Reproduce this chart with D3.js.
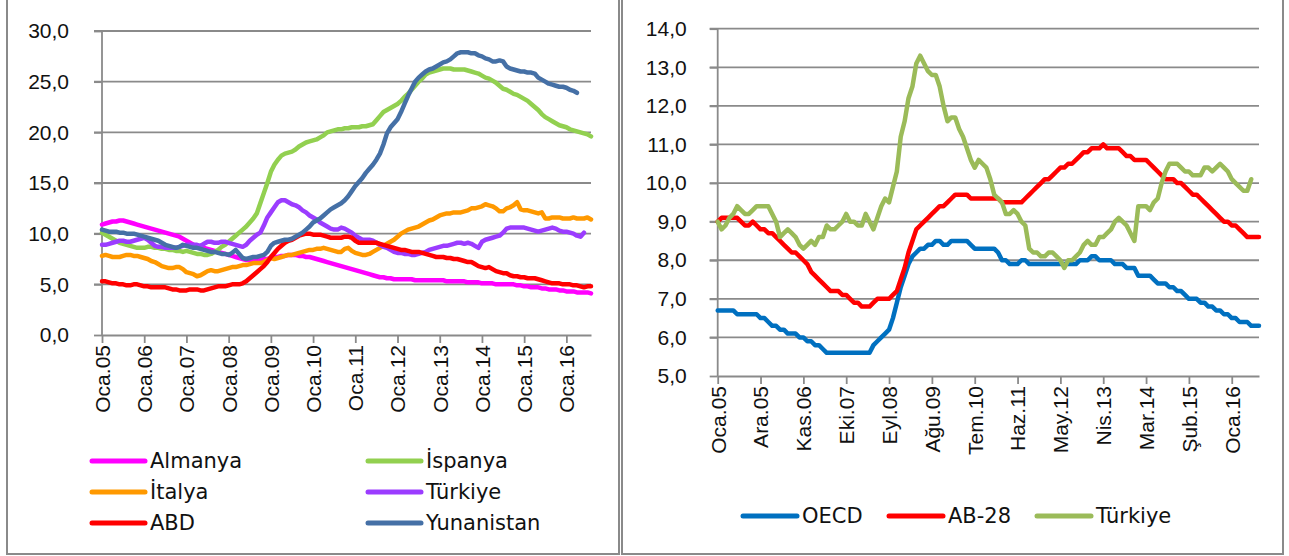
<!DOCTYPE html>
<html>
<head>
<meta charset="utf-8">
<script src="https://cdn.jsdelivr.net/npm/d3@7"></script>
<style>
  body { margin: 0; background: #fff; }
  svg { display: block; font-family: "DejaVu Sans", sans-serif; }
  .tick line, .domain { stroke: #8a8a8a; stroke-width: 1.8; }
  .grid { stroke: #8a8a8a; stroke-width: 1.8; }
  .tick text, .legend text { font-size: 21px; fill: #111; }
</style>
</head>
<body>
<svg id="chart" width="1289" height="556"></svg>
<script>
// tick labels
var leftLabels = ["Oca.05", "Oca.06", "Oca.07", "Oca.08", "Oca.09", "Oca.10",
  "Oca.11", "Oca.12", "Oca.13", "Oca.14", "Oca.15", "Oca.16"];
var rightLabels = ["Oca.05", "Ara.05", "Kas.06", "Eki.07", "Eyl.08", "Ağu.09",
  "Tem.10", "Haz.11", "May.12", "Nis.13", "Mar.14", "Şub.15", "Oca.16"];
var leftYTicks = [0, 5, 10, 15, 20, 25, 30];
var rightYTicks = [5, 6, 7, 8, 9, 10, 11, 12, 13, 14];

// left chart, monthly from Oca.05
var almanya = [
  10.9, 11.0, 11.1, 11.2, 11.2, 11.3, 11.3, 11.2, 11.1, 11.0, 10.9, 10.8,
  10.7, 10.6, 10.5, 10.4, 10.3, 10.2, 10.1, 10.0, 9.9, 9.8, 9.7, 9.5,
  9.3, 9.1, 8.9, 8.8, 8.7, 8.6, 8.5, 8.4, 8.3, 8.2, 8.1, 8.0,
  7.9, 7.8, 7.7, 7.6, 7.5, 7.4, 7.4, 7.4, 7.4, 7.4, 7.5, 7.5,
  7.6, 7.7, 7.7, 7.8, 7.8, 7.9, 7.9, 7.9, 7.8, 7.8, 7.7, 7.7,
  7.6, 7.5, 7.4, 7.3, 7.2, 7.1, 7.0, 6.9, 6.8, 6.7, 6.6, 6.5,
  6.4, 6.3, 6.2, 6.1, 6.0, 5.9, 5.8, 5.7, 5.7, 5.6, 5.6, 5.5,
  5.5, 5.5, 5.5, 5.5, 5.5, 5.4, 5.4, 5.4, 5.4, 5.4, 5.4, 5.4,
  5.4, 5.4, 5.3, 5.3, 5.3, 5.3, 5.3, 5.3, 5.2, 5.2, 5.2, 5.2,
  5.1, 5.1, 5.1, 5.1, 5.0, 5.0, 5.0, 5.0, 5.0, 5.0, 4.9, 4.9,
  4.8, 4.8, 4.7, 4.7, 4.7, 4.6, 4.6, 4.5, 4.5, 4.5, 4.4, 4.4,
  4.3, 4.3, 4.3, 4.2, 4.2, 4.2, 4.2, 4.1
];
var ispanya = [
  10.1, 9.9, 9.7, 9.5, 9.3, 9.1, 9.0, 8.9, 8.8, 8.7, 8.6, 8.6,
  8.6, 8.7, 8.7, 8.6, 8.6, 8.5, 8.5, 8.4, 8.4, 8.3, 8.3, 8.2,
  8.3, 8.2, 8.1, 8.0, 8.0, 7.9, 7.9, 8.0, 8.2, 8.4, 8.7, 8.9,
  9.2, 9.5, 9.8, 10.1, 10.4, 10.7, 11.1, 11.5, 12.0, 13.0, 14.0, 15.0,
  16.1, 16.8, 17.3, 17.7, 17.9, 18.0, 18.1, 18.3, 18.6, 18.8, 19.0, 19.1,
  19.2, 19.3, 19.5, 19.7, 20.0, 20.1, 20.2, 20.3, 20.3, 20.4, 20.4, 20.5,
  20.5, 20.5, 20.6, 20.6, 20.7, 20.8, 21.2, 21.6, 22.0, 22.2, 22.4, 22.6,
  22.8, 23.1, 23.5, 23.8, 24.2, 24.6, 25.0, 25.3, 25.7, 25.9, 26.0, 26.1,
  26.2, 26.3, 26.3, 26.3, 26.2, 26.2, 26.2, 26.2, 26.1, 26.0, 25.9, 25.8,
  25.6, 25.4, 25.3, 25.1, 24.9, 24.6, 24.3, 24.2, 24.0, 23.8, 23.7, 23.5,
  23.3, 23.1, 22.8, 22.5, 22.2, 21.8, 21.5, 21.3, 21.1, 20.9, 20.7, 20.6,
  20.5, 20.3, 20.2, 20.1, 20.0, 19.9, 19.8, 19.6
];
var italya = [
  7.8, 7.9, 7.8, 7.7, 7.7, 7.7, 7.8, 7.9, 7.9, 7.8, 7.8, 7.7,
  7.6, 7.5, 7.3, 7.2, 7.0, 6.8, 6.7, 6.6, 6.6, 6.7, 6.7, 6.5,
  6.2, 6.1, 6.0, 5.8, 5.9, 6.1, 6.3, 6.4, 6.3, 6.3, 6.4, 6.5,
  6.6, 6.7, 6.7, 6.8, 6.9, 6.9, 7.0, 7.1, 7.1, 7.1, 7.2, 7.4,
  7.6, 7.5, 7.6, 7.7, 7.8, 7.9, 7.9, 8.0, 8.1, 8.2, 8.3, 8.4,
  8.4, 8.5, 8.5, 8.6, 8.5, 8.4, 8.3, 8.2, 8.2, 8.5, 8.6, 8.3,
  8.1, 8.0, 7.9, 7.9, 8.0, 8.2, 8.4, 8.6, 8.8, 9.0, 9.2, 9.4,
  9.7, 10.0, 10.2, 10.4, 10.5, 10.6, 10.7, 10.9, 11.1, 11.3, 11.4, 11.6,
  11.8, 11.9, 12.0, 12.0, 12.1, 12.1, 12.1, 12.2, 12.3, 12.5, 12.5, 12.6,
  12.7, 12.9, 12.8, 12.7, 12.5, 12.2, 12.2, 12.5, 12.6, 12.8, 13.1, 12.4,
  12.3, 12.3, 12.2, 12.1, 12.0, 12.1, 11.5, 11.5, 11.6, 11.6, 11.6, 11.5,
  11.5, 11.5, 11.6, 11.5, 11.5, 11.5, 11.6, 11.4
];
var turkiyeL = [
  8.9, 8.9, 9.0, 9.1, 9.2, 9.3, 9.3, 9.2, 9.2, 9.3, 9.4, 9.5,
  9.6, 9.4, 9.1, 8.8, 8.7, 8.7, 8.6, 8.6, 8.6, 8.6, 8.7, 8.8,
  8.9, 8.9, 8.9, 8.9, 8.8, 9.0, 9.2, 9.2, 9.1, 9.1, 9.2, 9.2,
  9.1, 9.0, 8.9, 8.8, 8.7, 8.9, 9.3, 9.6, 9.9, 10.1, 10.8, 11.6,
  12.1, 12.6, 13.1, 13.3, 13.3, 13.1, 12.9, 12.8, 12.6, 12.3, 12.1, 11.8,
  11.6, 11.4, 11.1, 10.9, 10.7, 10.5, 10.4, 10.4, 10.6, 10.5, 10.3, 10.1,
  9.8, 9.6, 9.4, 9.4, 9.4, 9.3, 9.1, 8.9, 8.7, 8.6, 8.4, 8.2,
  8.1, 8.1, 8.0, 8.0, 7.9, 7.9, 8.0, 8.1, 8.2, 8.4, 8.5, 8.6,
  8.7, 8.8, 8.8, 8.9, 9.0, 9.1, 9.1, 9.0, 9.1, 9.0, 8.8, 8.6,
  9.2, 9.4, 9.5, 9.6, 9.7, 9.8, 10.1, 10.5, 10.6, 10.6, 10.6, 10.6,
  10.6, 10.5, 10.4, 10.3, 10.2, 10.3, 10.4, 10.5, 10.6, 10.5, 10.3, 10.2,
  10.2, 10.1, 10.0, 9.8, 9.7, 10.1
];
var abd = [
  5.3, 5.3, 5.2, 5.1, 5.1, 5.0, 5.0, 4.9, 4.9, 5.0, 5.0, 4.9,
  4.8, 4.8, 4.7, 4.7, 4.7, 4.7, 4.7, 4.6, 4.5, 4.5, 4.4, 4.4,
  4.4, 4.5, 4.5, 4.5, 4.4, 4.4, 4.5, 4.6, 4.7, 4.8, 4.8, 4.8,
  4.9, 5.0, 5.0, 5.0, 5.1, 5.3, 5.6, 5.9, 6.2, 6.5, 6.8, 7.2,
  7.7, 8.1, 8.5, 8.8, 9.1, 9.3, 9.4, 9.6, 9.8, 9.9, 10.0, 10.0,
  9.9, 9.9, 9.9, 9.8, 9.7, 9.6, 9.6, 9.6, 9.6, 9.7, 9.7, 9.6,
  9.3, 9.1, 9.1, 9.1, 9.1, 9.1, 9.1, 9.0, 8.9, 8.8, 8.7, 8.6,
  8.5, 8.4, 8.4, 8.3, 8.2, 8.2, 8.2, 8.1, 8.0, 7.9, 7.8, 7.7,
  7.7, 7.7, 7.6, 7.6, 7.5, 7.5, 7.4, 7.3, 7.2, 7.2, 7.0, 6.8,
  6.7, 6.6, 6.7, 6.5, 6.3, 6.2, 6.1, 6.1, 5.9, 5.8, 5.8, 5.7,
  5.7, 5.6, 5.6, 5.6, 5.5, 5.4, 5.3, 5.2, 5.1, 5.1, 5.1, 5.0,
  5.0, 5.0, 4.9, 4.9, 4.8, 4.7, 4.8, 4.8
];
var yunanistan = [
  10.4, 10.3, 10.2, 10.2, 10.2, 10.1, 10.1, 10.0, 10.0, 10.0, 9.9, 9.8,
  9.7, 9.6, 9.5, 9.4, 9.3, 9.1, 8.9, 8.8, 8.7, 8.6, 8.7, 8.9,
  8.8, 8.7, 8.6, 8.6, 8.5, 8.4, 8.3, 8.2, 8.2, 8.1, 8.0, 8.0,
  7.9, 8.1, 8.4, 8.0, 7.6, 7.5, 7.6, 7.7, 7.7, 7.8, 7.9, 8.2,
  8.8, 9.1, 9.2, 9.3, 9.4, 9.4, 9.5, 9.7, 9.9, 10.1, 10.4, 10.7,
  11.1, 11.3, 11.5, 11.8, 12.1, 12.4, 12.6, 12.8, 13.0, 13.3, 13.7, 14.2,
  14.7, 15.1, 15.5, 16.0, 16.4, 16.8, 17.3, 17.9, 18.8, 19.9, 20.5, 20.9,
  21.3, 22.0, 22.8, 23.6, 24.3, 25.0, 25.4, 25.7, 26.0, 26.2, 26.3, 26.5,
  26.7, 26.9, 27.0, 27.2, 27.5, 27.8, 27.9, 27.9, 27.9, 27.8, 27.8, 27.6,
  27.5, 27.3, 27.2, 27.0, 27.0, 27.1, 27.0, 26.5, 26.3, 26.2, 26.1, 26.0,
  26.0, 25.9, 25.9, 25.8, 25.4, 25.2, 25.0, 24.8, 24.7, 24.6, 24.5, 24.5,
  24.4, 24.2, 24.1, 23.9
];

// right chart, monthly from Oca.05
var oecd = [
  6.7, 6.7, 6.7, 6.7, 6.7, 6.6, 6.6, 6.6, 6.6, 6.6, 6.6, 6.5,
  6.5, 6.4, 6.3, 6.3, 6.2, 6.2, 6.1, 6.1, 6.1, 6.0, 6.0, 5.9,
  5.9, 5.8, 5.8, 5.7, 5.6, 5.6, 5.6, 5.6, 5.6, 5.6, 5.6, 5.6,
  5.6, 5.6, 5.6, 5.6, 5.8, 5.9, 6.0, 6.1, 6.2, 6.5, 6.9, 7.3,
  7.6, 7.9, 8.1, 8.2, 8.3, 8.3, 8.4, 8.4, 8.5, 8.5, 8.4, 8.4,
  8.5, 8.5, 8.5, 8.5, 8.5, 8.4, 8.3, 8.3, 8.3, 8.3, 8.3, 8.3,
  8.2, 8.0, 8.0, 7.9, 7.9, 7.9, 8.0, 8.0, 7.9, 7.9, 7.9, 7.9,
  7.9, 7.9, 7.9, 7.9, 7.9, 7.9, 7.9, 7.9, 7.9, 8.0, 8.0, 8.0,
  8.1, 8.1, 8.0, 8.0, 8.0, 8.0, 7.9, 7.9, 7.9, 7.8, 7.8, 7.8,
  7.6, 7.6, 7.6, 7.6, 7.5, 7.4, 7.4, 7.4, 7.3, 7.3, 7.2, 7.2,
  7.1, 7.0, 7.0, 7.0, 6.9, 6.9, 6.8, 6.8, 6.7, 6.7, 6.6, 6.6,
  6.5, 6.5, 6.4, 6.4, 6.4, 6.3, 6.3, 6.3
];
var ab28 = [
  9.0, 9.1, 9.1, 9.1, 9.1, 9.1, 9.0, 8.9, 8.9, 9.0, 8.9, 8.8,
  8.8, 8.7, 8.7, 8.6, 8.5, 8.4, 8.3, 8.2, 8.2, 8.1, 8.0, 7.9,
  7.7, 7.6, 7.5, 7.4, 7.3, 7.2, 7.2, 7.2, 7.1, 7.1, 7.0, 6.9,
  6.9, 6.8, 6.8, 6.8, 6.9, 7.0, 7.0, 7.0, 7.0, 7.1, 7.2, 7.5,
  7.8, 8.2, 8.5, 8.8, 8.9, 9.0, 9.1, 9.2, 9.3, 9.4, 9.4, 9.5,
  9.6, 9.7, 9.7, 9.7, 9.7, 9.6, 9.6, 9.6, 9.6, 9.6, 9.6, 9.6,
  9.6, 9.5, 9.5, 9.5, 9.5, 9.5, 9.5, 9.6, 9.7, 9.8, 9.9, 10.0,
  10.1, 10.1, 10.2, 10.3, 10.4, 10.4, 10.5, 10.5, 10.6, 10.7, 10.8, 10.8,
  10.9, 10.9, 10.9, 11.0, 10.9, 10.9, 10.9, 10.9, 10.8, 10.7, 10.7, 10.6,
  10.6, 10.6, 10.6, 10.5, 10.4, 10.3, 10.2, 10.1, 10.1, 10.1, 10.0, 10.0,
  9.9, 9.8, 9.7, 9.7, 9.6, 9.5, 9.4, 9.3, 9.2, 9.1, 9.0, 9.0,
  8.9, 8.9, 8.8, 8.7, 8.6, 8.6, 8.6, 8.6
];
var turkiyeR = [
  9.0, 8.8, 8.9, 9.1, 9.2, 9.4, 9.3, 9.2, 9.2, 9.3, 9.4, 9.4,
  9.4, 9.4, 9.2, 9.0, 8.6, 8.7, 8.8, 8.7, 8.6, 8.4, 8.3, 8.4,
  8.5, 8.4, 8.6, 8.6, 8.9, 8.8, 8.8, 8.9, 9.0, 9.2, 9.0, 9.0,
  8.9, 8.9, 9.2, 9.0, 8.8, 9.1, 9.4, 9.6, 9.5, 9.9, 10.3, 11.2,
  11.6, 12.2, 12.5, 13.1, 13.3, 13.1, 12.9, 12.8, 12.8, 12.5, 12.0, 11.6,
  11.7, 11.7, 11.4, 11.2, 10.9, 10.6, 10.4, 10.6, 10.5, 10.4, 10.1, 9.7,
  9.6, 9.5, 9.2, 9.2, 9.3, 9.2, 9.0, 8.9, 8.3, 8.2, 8.2, 8.1,
  8.1, 8.2, 8.2, 8.1, 8.0, 7.8, 8.0, 8.0, 8.1, 8.2, 8.4, 8.5,
  8.4, 8.4, 8.6, 8.6, 8.7, 8.8, 9.0, 9.1, 9.0, 8.9, 8.7, 8.5,
  9.4, 9.4, 9.4, 9.3, 9.5, 9.6, 10.0, 10.3, 10.5, 10.5, 10.5, 10.4,
  10.3, 10.3, 10.2, 10.2, 10.2, 10.4, 10.4, 10.3, 10.4, 10.5, 10.4, 10.3,
  10.1, 10.0, 9.9, 9.8, 9.8, 10.1
];

var fmt = d3.formatLocale({ decimal: ",", thousands: ".", grouping: [3], currency: ["", ""] }).format(".1f");

var svg = d3.select("#chart");

// panel frames
svg.append("rect").attr("x", 7).attr("y", -3).attr("width", 612).attr("height", 557)
  .attr("fill", "none").attr("stroke", "#8a8a8a").attr("stroke-width", 2);
svg.append("rect").attr("x", 622).attr("y", -3).attr("width", 661).attr("height", 557)
  .attr("fill", "none").attr("stroke", "#8a8a8a").attr("stroke-width", 2);

function drawPanel(o) {
  var x = d3.scaleLinear().domain([0, 139]).range([o.left, o.right]);
  var y = d3.scaleLinear().domain(o.yDomain).range([o.bottom, o.top]);
  var g = svg.append("g");

  // horizontal grid
  g.selectAll(".grid").data(o.yTicks.slice(1)).enter()
    .append("line")
    .attr("class", "grid")
    .attr("x1", o.left - 8).attr("x2", o.right)
    .attr("y1", function(d) { return y(d); })
    .attr("y2", function(d) { return y(d); });

  g.append("g")
    .attr("transform", "translate(" + o.left + ",0)")
    .call(d3.axisLeft(y).tickValues(o.yTicks).tickFormat(fmt).tickSize(8).tickPadding(o.yPad))
    .call(function(a) { a.select(".domain").attr("d", "M0," + o.top + "V" + o.bottom); });

  var ticks = o.xLabels.map(function(d, i) { return i * o.step; });
  var xAxis = g.append("g")
    .attr("transform", "translate(0," + o.bottom + ")")
    .call(d3.axisBottom(x).tickValues(ticks)
      .tickFormat(function(d, i) { return o.xLabels[i]; })
      .tickSize(8).tickSizeOuter(0));
  xAxis.selectAll("text")
    .attr("transform", "rotate(-90)")
    .attr("x", -o.xPad).attr("y", 0).attr("dy", "0.35em")
    .style("text-anchor", "end");

  var line = d3.line()
    .x(function(d, i) { return x(i); })
    .y(function(d) { return y(d); });

  o.series.forEach(function(s) {
    g.append("path")
      .datum(s.values)
      .attr("d", line)
      .attr("fill", "none")
      .attr("stroke", s.color)
      .attr("stroke-width", 4.5)
      .attr("stroke-linejoin", "round")
      .attr("stroke-linecap", "round");
  });

  // legend
  var lg = g.selectAll(".legend").data(o.series).enter()
    .append("g")
    .attr("class", "legend")
    .attr("transform", function(d) { return "translate(" + d.lx + "," + d.ly + ")"; });
  lg.append("line")
    .attr("x1", 0).attr("x2", o.legLen)
    .attr("stroke", function(d) { return d.color; })
    .attr("stroke-width", 5)
    .attr("stroke-linecap", "round");
  lg.append("text")
    .attr("x", o.legLen + 5).attr("dy", "0.35em")
    .text(function(d) { return d.name; });
}

drawPanel({
  left: 102, right: 591, top: 31, bottom: 335,
  yDomain: [0, 30], yTicks: leftYTicks, yPad: 25,
  xLabels: leftLabels, step: 12, xPad: 10, legLen: 53,
  series: [
    { name: "Almanya", values: almanya, color: "#ff00ff", lx: 92, ly: 461 },
    { name: "İspanya", values: ispanya, color: "#92d050", lx: 368, ly: 461 },
    { name: "İtalya", values: italya, color: "#ff9900", lx: 92, ly: 492 },
    { name: "Türkiye", values: turkiyeL, color: "#9b3cff", lx: 368, ly: 492 },
    { name: "ABD", values: abd, color: "#ff0000", lx: 92, ly: 523 },
    { name: "Yunanistan", values: yunanistan, color: "#4570a6", lx: 368, ly: 523 }
  ]
});

drawPanel({
  left: 717.7, right: 1259, top: 28.7, bottom: 376,
  yDomain: [5, 14], yTicks: rightYTicks, yPad: 23,
  xLabels: rightLabels, step: 11, xPad: 10, legLen: 54,
  series: [
    { name: "OECD", values: oecd, color: "#0070c0", lx: 743, ly: 516 },
    { name: "AB-28", values: ab28, color: "#ff0000", lx: 889, ly: 516 },
    { name: "Türkiye", values: turkiyeR, color: "#9bbb59", lx: 1037, ly: 516 }
  ]
});
</script>
</body>
</html>
